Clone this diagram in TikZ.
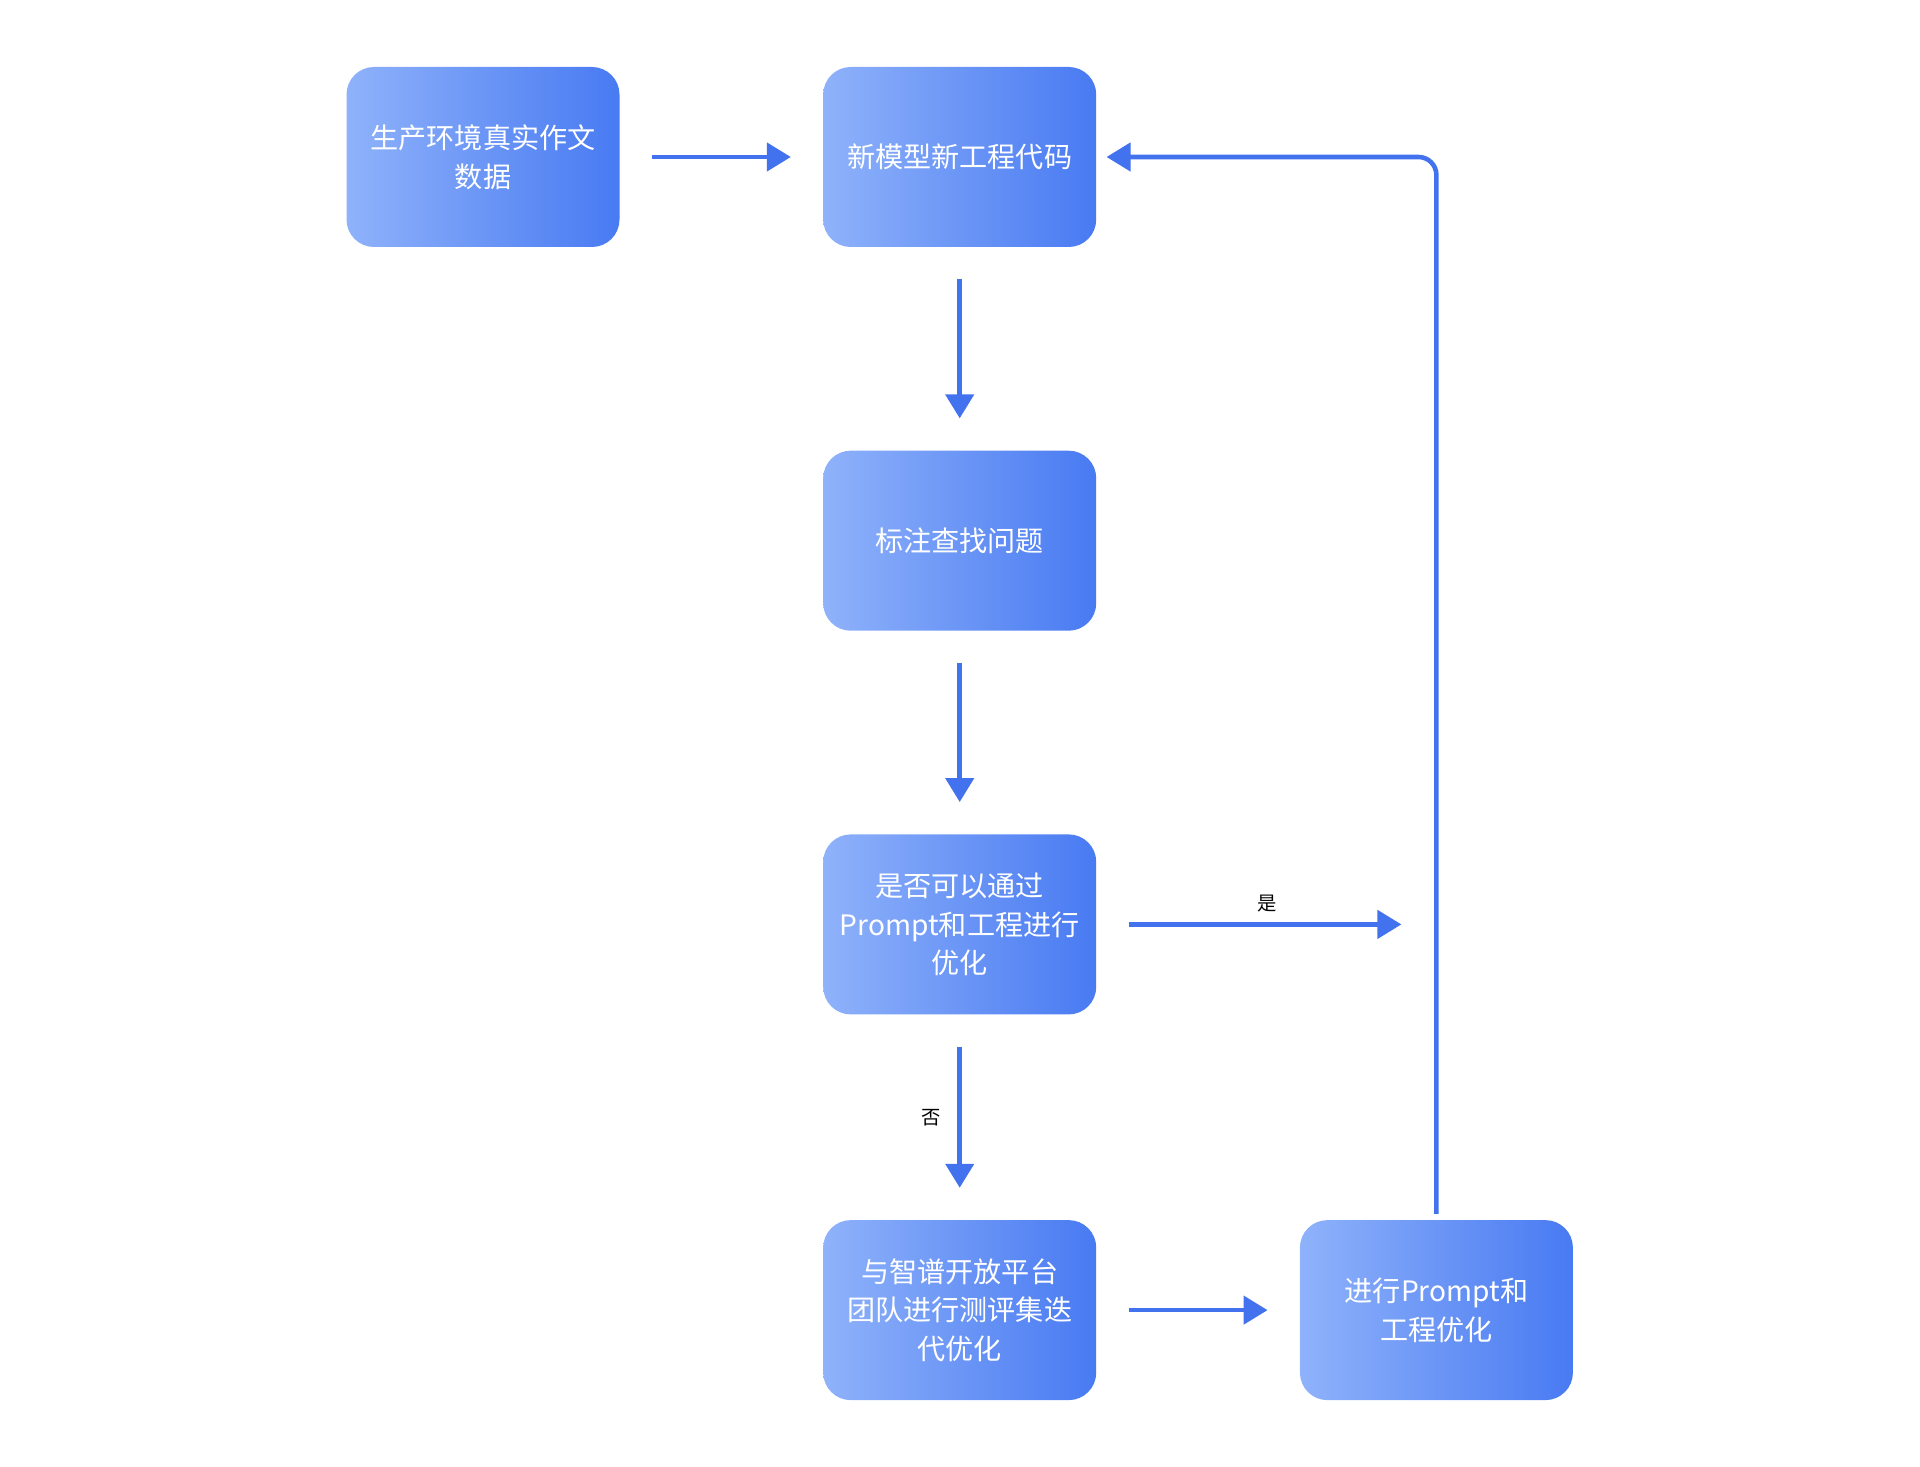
\documentclass[tikz,border=0pt]{standalone}
\usepackage{fontspec}
\setmainfont{Noto Sans CJK SC}
\usetikzlibrary{shapes.geometric, arrows.meta, positioning, calc}
\definecolor{boxleft}{RGB}{143,178,250}
\definecolor{boxright}{RGB}{72,122,242}
\definecolor{flowblue}{RGB}{66,114,238}
\tikzstyle{process} = [rectangle, rounded corners=0.55cm, minimum width=5.46cm, minimum height=3.6cm, text centered, align=center, text=white, left color=boxleft, right color=boxright, font=\fontsize{16}{22}\selectfont]
\tikzstyle{arrow} = [draw=flowblue, line width=2.6pt, -{Triangle[length=0.48cm, width=0.56cm]}, shorten <=0.64cm, shorten >=0.64cm]
\tikzstyle{tag} = [font=\fontsize{11}{13}\selectfont, text=black]

\begin{document}
\begin{tikzpicture}[node distance=4.06cm]
	\useasboundingbox (0,0) rectangle (38.4,-29.34);

		\node (real-data) [process] at (9.66,-3.14) {生产环境真实作文\\数据};
		\node (new-code) [process, right=of real-data] {新模型新工程代码};
		\node (annotate) [process, below=of new-code] {标注查找问题};
		\node (can-fix) [process, below=of annotate] {是否可以通过\\Prompt和工程进行\\优化};
		\node (zhipu) [process, below=of can-fix, yshift=-0.04cm] {与智谱开放平台\\团队进行测评集迭\\代优化};
		\node (optimize) [process, right=of zhipu] {进行Prompt和\\工程优化};

		\coordinate (yes-end) at ($(optimize.center |- can-fix.center)+(-0.7,0)$);

		\draw[arrow] (real-data) -- (new-code);
		\draw[arrow] (new-code) -- (annotate);
		\draw[arrow] (annotate) -- (can-fix);
		\draw[arrow] (can-fix) -- (zhipu) node[tag, midway, left=0.22cm] {否};
		\draw[arrow, shorten >=0pt] (can-fix) -- (yes-end) node[tag, midway, above=0.08cm, xshift=0.36cm] {是};
		\draw[arrow] (zhipu) -- (optimize);
		\draw[arrow, rounded corners=0.36cm, shorten <=0.12cm, shorten >=0.2cm] (optimize.north) |- (new-code.east);
	\end{tikzpicture}
\end{document}
